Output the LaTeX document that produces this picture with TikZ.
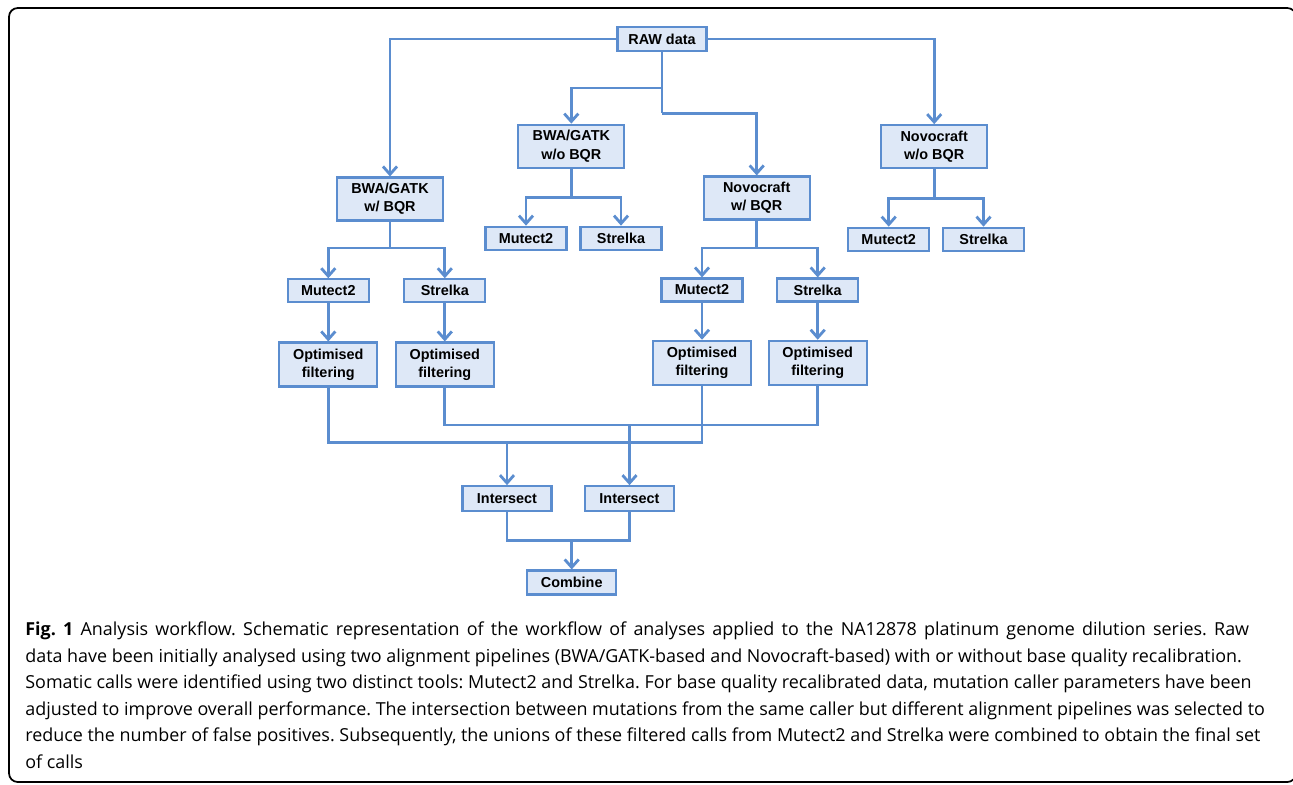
\documentclass[tikz,border=0pt]{standalone}
\usepackage{fontspec}
\setmainfont{Liberation Sans}
\newfontfamily\capfont{Open Sans}
\usetikzlibrary{arrows.meta}
\definecolor{flowblue}{HTML}{5B8DCF}
\definecolor{boxfill}{HTML}{DEE8F7}

\begin{document}
\begin{tikzpicture}[x=0.02cm,y=-0.02cm,
  box/.style={draw=flowblue,line width=1.2pt,fill=boxfill,inner sep=0pt,align=center,
    font=\fontsize{8.2}{10.4}\selectfont\bfseries},
  smallbox/.style={box,minimum width=1.62cm,minimum height=0.46cm},
  widebox/.style={box,minimum width=1.78cm,minimum height=0.48cm},
  pipebox/.style={box,minimum width=2.12cm,minimum height=0.86cm},
  filtbox/.style={box,minimum width=1.96cm,minimum height=0.88cm},
  link/.style={draw=flowblue,line width=1.6pt},
  flow/.style={link,-{Straight Barb[length=4.5pt,width=8pt]}}]
\useasboundingbox (0,0) rectangle (1293,784);
\draw[line width=1pt,rounded corners=5pt] (9,8) rectangle (1296,782);

\node[widebox] (raw) at (662,39) {RAW data};
\node[pipebox] (bwaB) at (390,199) {BWA/GATK\\w/ BQR};
\node[pipebox] (bwaN) at (571.3,146.2) {BWA/GATK\\w/o BQR};
\node[pipebox] (novB) at (756.7,198) {Novocraft\\w/ BQR};
\node[pipebox] (novN) at (934.2,146.7) {Novocraft\\w/o BQR};

\node[smallbox] (mutBN) at (526,238.2) {Mutect2};
\node[smallbox] (strBN) at (621,238.2) {Strelka};
\node[smallbox] (mutNN) at (888.7,239.2) {Mutect2};
\node[smallbox] (strNN) at (983.5,239.2) {Strelka};
\node[smallbox] (mutBB) at (328.3,290.8) {Mutect2};
\node[smallbox] (strBB) at (444.8,290.8) {Strelka};
\node[smallbox] (mutNB) at (702,290) {Mutect2};
\node[smallbox] (strNB) at (817.7,290) {Strelka};

\node[filtbox] (filBBm) at (328.3,364.5) {Optimised\\filtering};
\node[filtbox] (filBBs) at (444.8,364.5) {Optimised\\filtering};
\node[filtbox] (filNBm) at (702,362.8) {Optimised\\filtering};
\node[filtbox] (filNBs) at (817.7,362.8) {Optimised\\filtering};

\node[widebox,minimum height=0.5cm] (isecM) at (507,498.7) {Intersect};
\node[widebox,minimum height=0.5cm] (isecS) at (629.5,498.7) {Intersect};
\node[widebox] (comb) at (571.7,582.5) {Combine};

\coordinate (rawJ1) at (662,88);
\coordinate (rawJ2) at (662,113.3);
\coordinate (bwaNJ) at (571.3,197.3);
\coordinate (novNJ) at (934.2,198.3);
\coordinate (bwaBJ) at (390,248);
\coordinate (novBJ) at (756.7,248);
\coordinate (barM) at (507,442.3);
\coordinate (barS) at (629.5,425);
\coordinate (combJ) at (571.7,540.7);

\draw[flow] (raw.west) -| (bwaB.north);
\draw[flow] (raw.east) -| (novN.north);
\draw[link] (raw.south) -- (rawJ2);
\draw[flow] (rawJ1) -| (bwaN.north);
\draw[flow] (rawJ2) -| (novB.north);

\draw[link] (bwaN.south) -- (bwaNJ);
\draw[flow] (bwaNJ) -| (mutBN.north);
\draw[flow] (bwaNJ) -| (strBN.north);
\draw[link] (novN.south) -- (novNJ);
\draw[flow] (novNJ) -| (mutNN.north);
\draw[flow] (novNJ) -| (strNN.north);
\draw[link] (bwaB.south) -- (bwaBJ);
\draw[flow] (bwaBJ) -| (mutBB.north);
\draw[flow] (bwaBJ) -| (strBB.north);
\draw[link] (novB.south) -- (novBJ);
\draw[flow] (novBJ) -| (mutNB.north);
\draw[flow] (novBJ) -| (strNB.north);

\draw[flow] (mutBB) -- (filBBm);
\draw[flow] (strBB) -- (filBBs);
\draw[flow] (mutNB) -- (filNBm);
\draw[flow] (strNB) -- (filNBs);

\draw[link] (filBBm.south) |- (barM) -| (filNBm.south);
\draw[link] (filBBs.south) |- (barS) -| (filNBs.south);
\draw[flow] (barM) -- (isecM.north);
\draw[flow] (barS) -- (isecS.north);

\draw[link] (isecM.south) |- (combJ) -| (isecS.south);
\draw[flow] (combJ) -- (comb.north);

\node[anchor=base west,inner sep=0pt,align=left,font=\capfont\fontsize{10.2}{15.1}\selectfont\frenchspacing]
  (caption) at (25,768.5) {\makebox[24.48cm][s]{\textbf{Fig. 1} Analysis workflow. Schematic representation of the workflow of analyses applied to the NA12878 platinum genome dilution series. Raw}\\
data have been initially analysed using two alignment pipelines (BWA/GATK-based and Novocraft-based) with or without base quality recalibration.\\
Somatic calls were identified using two distinct tools: Mutect2 and Strelka. For base quality recalibrated data, mutation caller parameters have been\\
adjusted to improve overall performance. The intersection between mutations from the same caller but different alignment pipelines was selected to\\
reduce the number of false positives. Subsequently, the unions of these filtered calls from Mutect2 and Strelka were combined to obtain the final set\\
of calls};
\end{tikzpicture}
\end{document}
